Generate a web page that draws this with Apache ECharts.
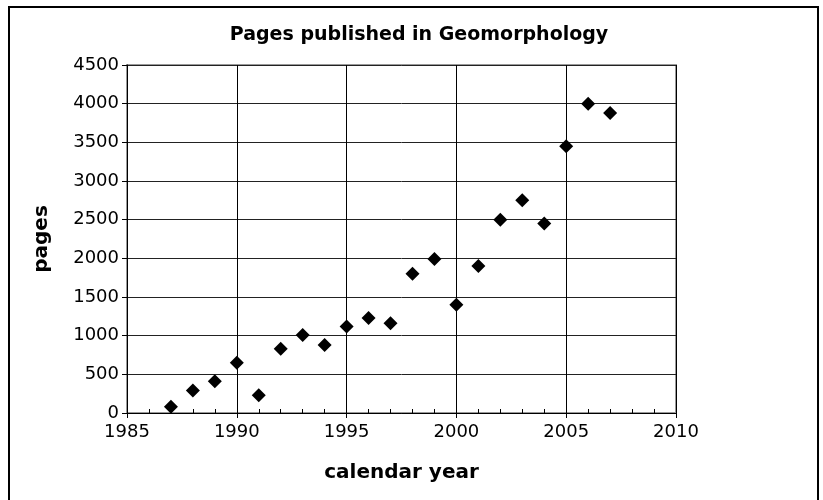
<!DOCTYPE html>
<html><head><meta charset="utf-8">
<script src="https://cdn.jsdelivr.net/npm/echarts@6/dist/echarts.min.js"></script>
<style>html,body{margin:0;padding:0;background:#fff}#c{width:823px;height:500px}</style>
</head><body><div id="c"></div>
<script>
const years = [1987,1988,1989,1990,1991,1992,1993,1994,1995,1996,1997,1998,1999,2000,2001,2002,2003,2004,2005,2006,2007];
const pages = [80,290,410,650,230,830,1010,880,1120,1230,1160,1800,1990,1400,1900,2500,2750,2450,3450,4000,3880];
const titleText = 'Pages published in Geomorphology';
const xName = 'calendar year';
const yName = 'pages';

const chart = echarts.init(document.getElementById('c'), null, {renderer:'canvas'});
const font = '"DejaVu Sans", Verdana, sans-serif';
chart.setOption({
  animation:false,
  backgroundColor:'#fff',
  title:{text:titleText,left:414,textAlign:'center',top:21,
    textStyle:{fontFamily:font,fontWeight:'bold',fontSize:19,color:'#000'}},
  graphic:[{type:'rect',shape:{x:9,y:7,width:809,height:500},style:{fill:null,stroke:'#000',lineWidth:2},z:-1}],
  grid:{left:127,right:147,top:65,bottom:87,show:true,borderColor:'#999',borderWidth:2},
  xAxis:[{type:'value',min:1985,max:2010,interval:5,
    name:xName,nameLocation:'middle',nameGap:50,
    nameTextStyle:{fontFamily:font,fontWeight:'bold',fontSize:20,color:'#000'},
    axisLine:{show:true,onZero:false,lineStyle:{color:'#000',width:1}},
    axisTick:{show:true,length:5,lineStyle:{color:'#000'}},
    axisLabel:{fontFamily:font,fontSize:18,color:'#000',margin:10,formatter:v=>String(v)},
    splitLine:{show:true,lineStyle:{color:'#000',width:1}}},
   {type:'value',min:1985,max:2010,interval:1,position:'bottom',
    axisLine:{show:false},axisTick:{show:true,inside:true,length:4,lineStyle:{color:'#000'}},
    axisLabel:{show:false},splitLine:{show:false}}],
  yAxis:{type:'value',min:0,max:4500,interval:500,
    name:yName,nameLocation:'middle',nameGap:75,
    nameTextStyle:{fontFamily:font,fontWeight:'bold',fontSize:20,color:'#000'},
    axisLine:{show:true,lineStyle:{color:'#000',width:1}},
    axisTick:{show:true,length:5,lineStyle:{color:'#000'}},
    axisLabel:{fontFamily:font,fontSize:18,color:'#000',margin:8,formatter:v=>String(v)},
    splitLine:{show:true,lineStyle:{color:'#222',width:1}}},
  series:[{type:'scatter',data:years.map((y,i)=>[y,pages[i]]),symbol:'diamond',symbolSize:14,
    itemStyle:{color:'#000',opacity:1},z:5}]
});
</script></body></html>
